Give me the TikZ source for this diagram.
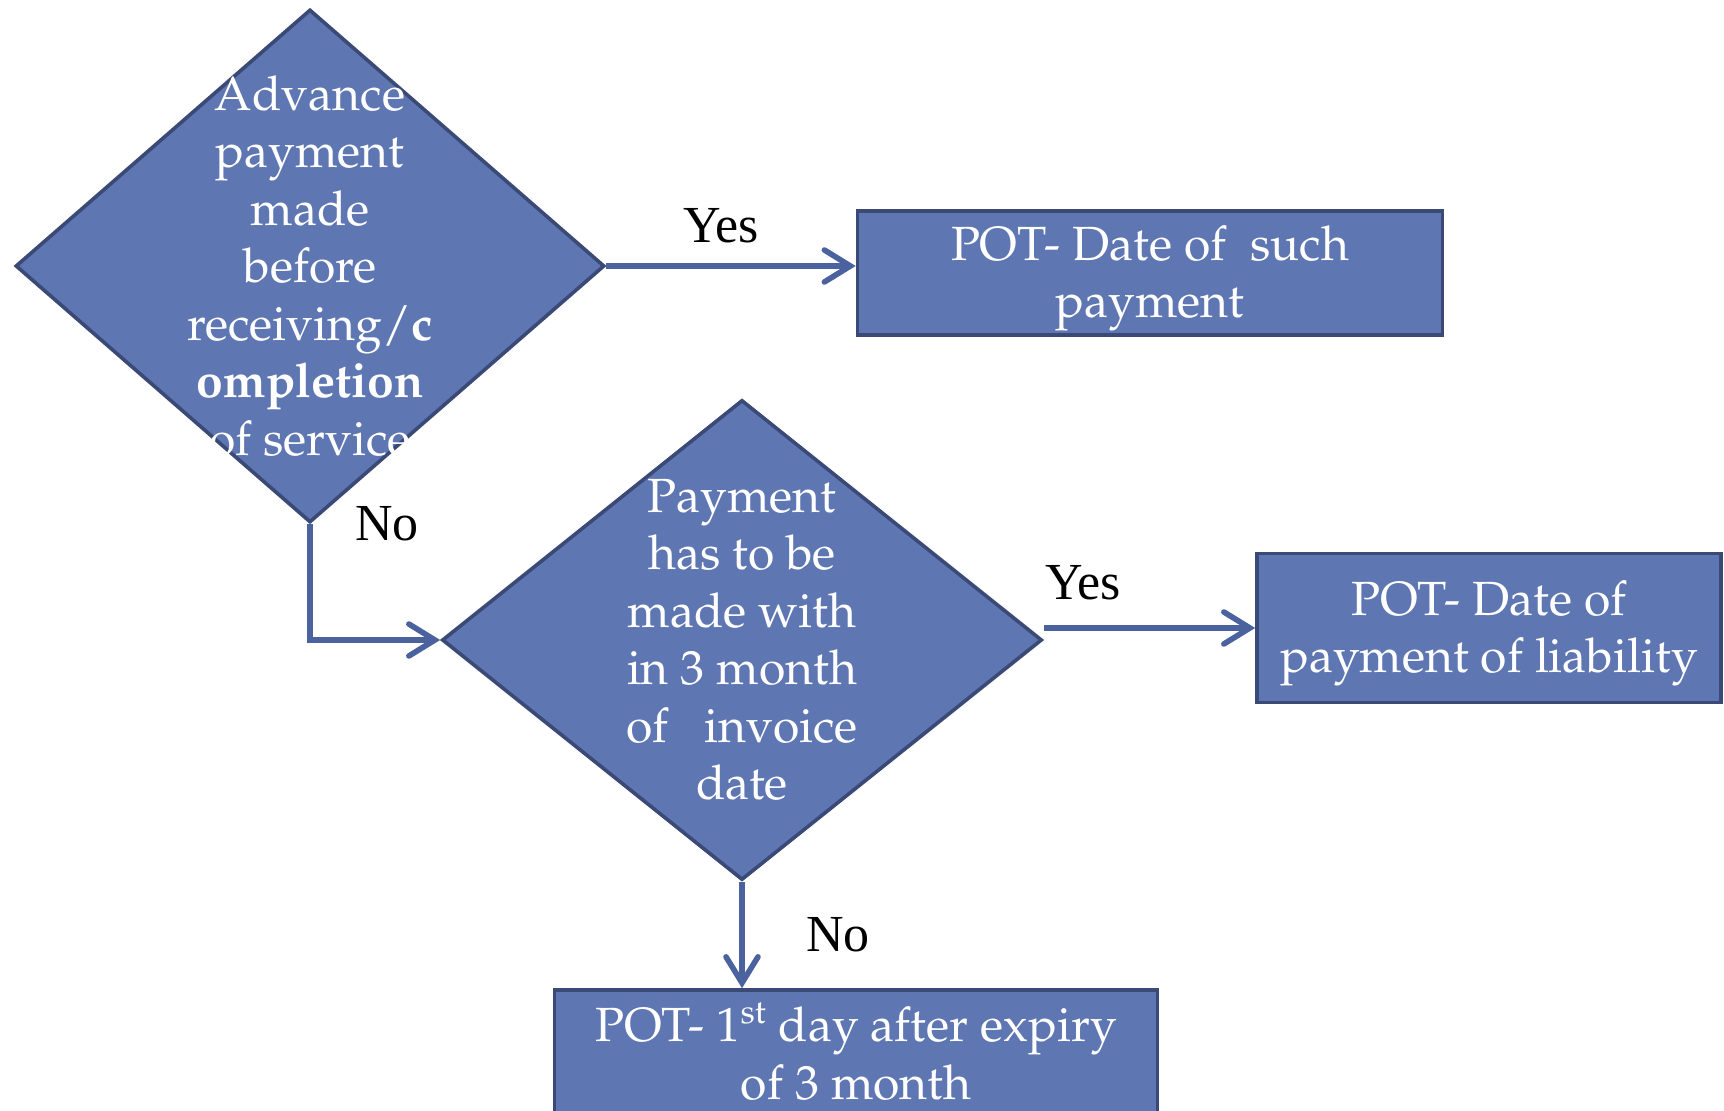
\documentclass[tikz,border=0pt]{standalone}
\usepackage[T1]{fontenc}
\usepackage{fontspec}
\usepackage{tikz}
\usetikzlibrary{arrows.meta, positioning, calc, shapes.geometric}
\definecolor{potfill}{RGB}{94,118,178}
\definecolor{potedge}{RGB}{58,73,117}
\definecolor{potline}{RGB}{74,98,158}
\newfontfamily\lblfamily{Liberation Serif}
\newcommand{\boxfont}{\fontencoding{T1}\fontfamily{ppl}\fontsize{24}{28.75}\selectfont}
\newcommand{\lblfont}{\lblfamily\fontsize{26}{28}\selectfont}
\newcommand{\lowstrut}{\rule{0pt}{23pt}}

\begin{document}
\begin{tikzpicture}[x=0.5pt, y=-0.5pt,
    >={Straight Barb[length=13pt, width=16pt, line cap=round]},
    decision/.style={diamond, draw=potedge, fill=potfill, line width=1.8pt, inner sep=0pt},
    potbox/.style={rectangle, draw=potedge, fill=potfill, line width=1.8pt, inner sep=0pt},
    boxtext/.style={text=white, align=center, font=\boxfont},
    flow/.style={->, draw=potline, line width=2.8pt},
    answer/.style={font=\lblfont, text=black}]
        \useasboundingbox (0,0) rectangle (1724,1111);

        % First question
        \node [decision, minimum width=294.5pt, minimum height=256.5pt] (adv) at (310,266) {};
        \node [boxtext] (advtext) at (adv) {Advance\\payment\\made\\before\\receiving/\textbf{c}\\\textbf{ompletion}\\of service};

        % Second question
        \node [decision, minimum width=300pt, minimum height=240pt] (pay) at (742,640) {};
        \node [boxtext] (paytext) at (pay) {Payment\\has to be\\made with\\in 3 month\\of~~~invoice\\date};

        % Outcomes
        \node [potbox, boxtext, minimum width=292.5pt, minimum height=62pt] (such) at (1150,273) {\lowstrut POT- Date of~~such\\payment};
        \node [potbox, boxtext, minimum width=232pt, minimum height=74.5pt] (liab) at (1489,628) {\lowstrut POT- Date of\\payment of liability};
        \node [potbox, boxtext, minimum width=301.5pt, minimum height=62pt] (mon) at (856,1052) {POT- 1\textsuperscript{st} day after expiry\\of 3 month};

        % Connectors
        \draw [flow] (adv.east) -- (adv.east -| such.west);
        \draw [flow] (adv.south) |- (pay.west);
        \draw [flow] (liab.west -| pay.east) -- (liab.west);
        \draw [flow] (pay.south) -- (pay.south |- mon.north);

        % Answers
        \node [answer] (yes1) at (721,226) {Yes};
        \node [answer] (no1) at (387,524) {No};
        \node [answer] (yes2) at (1083,583) {Yes};
        \node [answer] (no2) at (838,935) {No};
    \end{tikzpicture}
\end{document}
